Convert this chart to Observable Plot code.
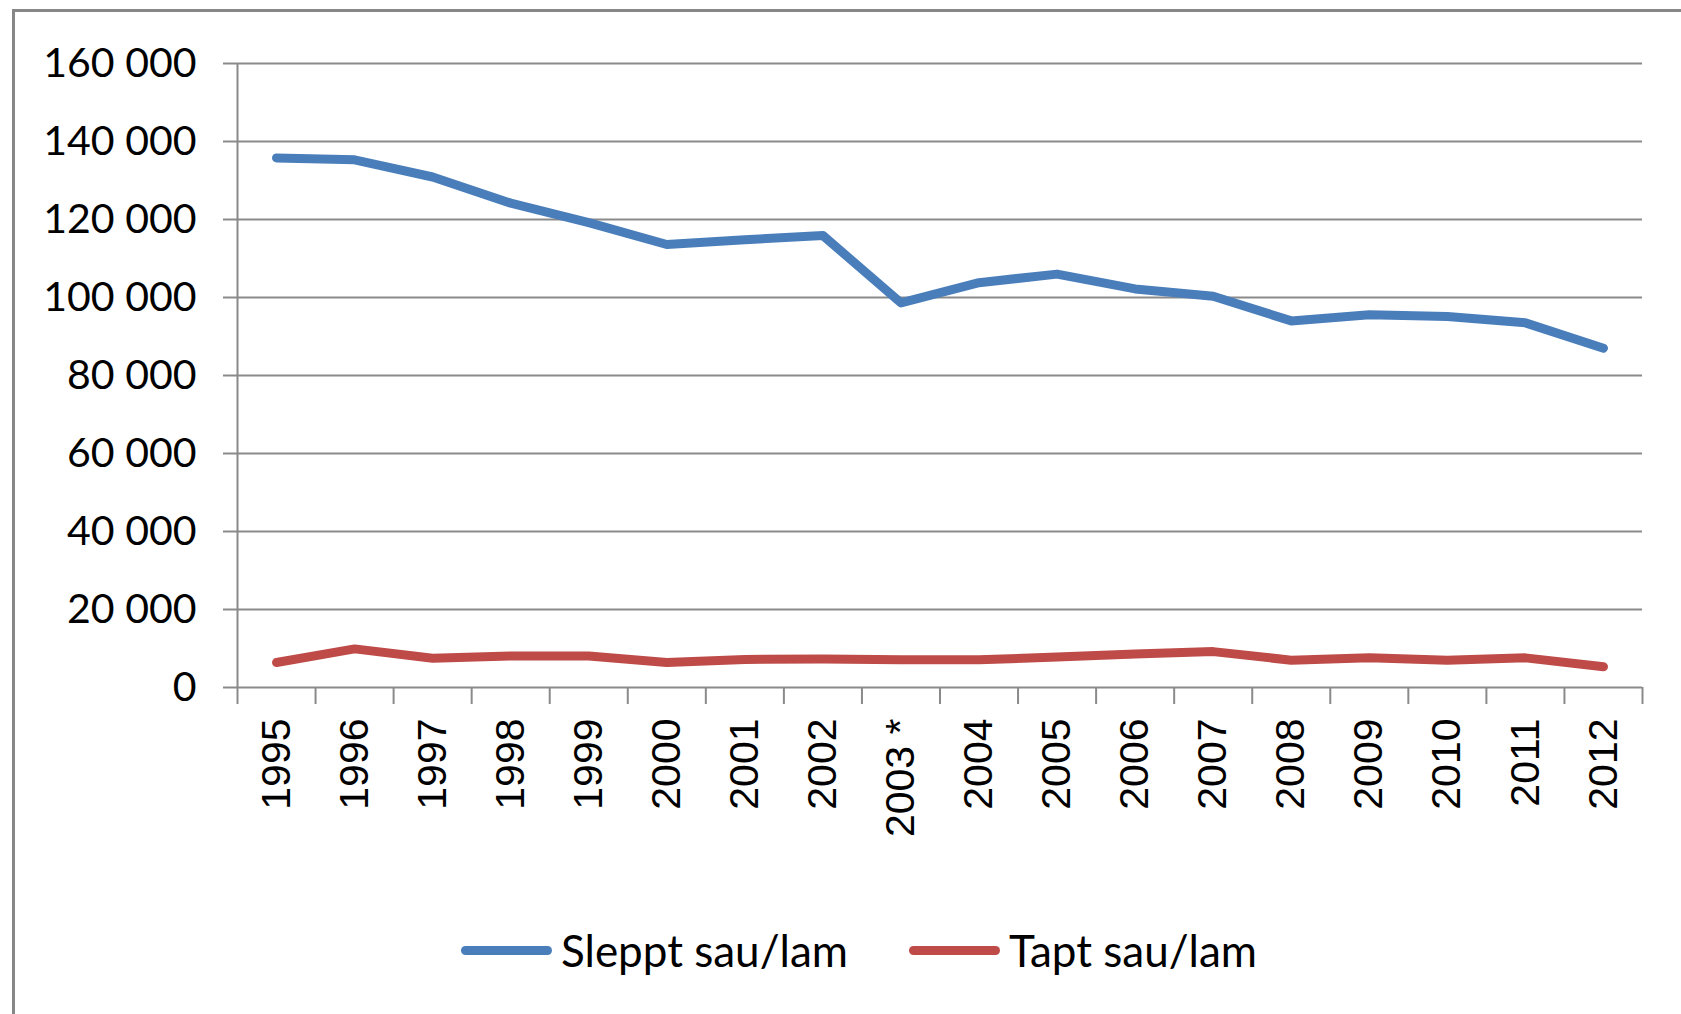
<!DOCTYPE html>
<html><head><meta charset="utf-8">
<script src="https://cdn.jsdelivr.net/npm/d3@7"></script>
<script src="https://cdn.jsdelivr.net/npm/@observablehq/plot@0.6"></script>
<style>
html,body{margin:0;padding:0;background:#fff;width:1681px;height:1014px;overflow:hidden;}
#frame{position:absolute;left:12px;top:9px;width:1800px;height:1100px;border-left:3px solid #878787;border-top:3px solid #878787;}
#chart{position:absolute;left:0;top:0;}
#legend{position:absolute;left:0;top:925px;width:1681px;height:50px;font-family:Lato,sans-serif;font-size:44px;color:#000;}
.item{position:absolute;top:0;height:50px;display:flex;align-items:center;white-space:nowrap;}
.sw{width:91px;height:9px;border-radius:5px;margin-right:9px;}
</style></head>
<body><div id="frame"></div><div id="chart"></div><div id="legend"></div>
<script>
const categories = ["1995","1996","1997","1998","1999","2000","2001","2002","2003 *","2004","2005","2006","2007","2008","2009","2010","2011","2012"];
const sleppt = [135800,135300,130900,124200,119200,113600,114800,115900,98600,103800,106000,102200,100300,94000,95600,95100,93500,87000];
const tapt = [6400,9900,7500,8100,8100,6400,7200,7300,7100,7100,7800,8600,9200,7000,7600,7000,7600,5300];
const seriesNames = ["Sleppt sau/lam","Tapt sau/lam"];
const seriesColors = ["#4A7EBB","#BE4B48"];
const yTicks = [0,20000,40000,60000,80000,100000,120000,140000,160000];

const fmt = d3.formatLocale({decimal:",",thousands:"\u00a0",grouping:[3],currency:["",""]}).format(",d");

const rows = [];
[sleppt, tapt].forEach((vals, s) => vals.forEach((v, i) => rows.push({i, pos: i + 0.5, value: v, series: seriesNames[s]})));
const boundaries = d3.range(categories.length + 1);
const centers = categories.map((c, i) => i + 0.5);

const plot = Plot.plot({
  width: 1681,
  height: 870,
  marginLeft: 237,
  marginRight: 39,
  marginTop: 63,
  marginBottom: 183,
  x: {type: "linear", domain: [0, categories.length]},
  y: {domain: [0, 160000]},
  color: {domain: seriesNames, range: seriesColors},
  marks: [
    Plot.ruleY(yTicks, {stroke: "#8a8a8a", strokeWidth: 2}),
    Plot.ruleX([0], {stroke: "#8a8a8a", strokeWidth: 2}),
    Plot.axisY({ticks: yTicks, tickSize: 14, tickPadding: 27, tickFormat: fmt, fontSize: 41, fontFamily: "Lato", fill: "#000", stroke: "#8a8a8a", strokeWidth: 2, strokeOpacity: 1, label: null}),
    Plot.axisX({ticks: boundaries, tickSize: 17, tickFormat: () => "", stroke: "#8a8a8a", strokeWidth: 2, strokeOpacity: 1, label: null}),
    Plot.axisX({ticks: centers, tickSize: 0, tickPadding: 31, tickRotate: -90, tickFormat: d => categories[Math.floor(d)], fontSize: 41, fontFamily: "Liberation Sans", fill: "#000", label: null}),
    Plot.line(rows, {x: "pos", y: "value", z: "series", stroke: "series", strokeWidth: 9, strokeLinecap: "round", strokeLinejoin: "round"})
  ]
});
document.getElementById("chart").appendChild(plot);

const legendLefts = [461, 909];
const legend = document.getElementById("legend");
seriesNames.forEach((name, s) => {
  const item = document.createElement("div");
  item.className = "item";
  item.style.left = legendLefts[s] + "px";
  const sw = document.createElement("div");
  sw.className = "sw";
  sw.style.background = seriesColors[s];
  const t = document.createElement("span");
  t.textContent = name;
  item.appendChild(sw); item.appendChild(t);
  legend.appendChild(item);
});
</script>
</body></html>
